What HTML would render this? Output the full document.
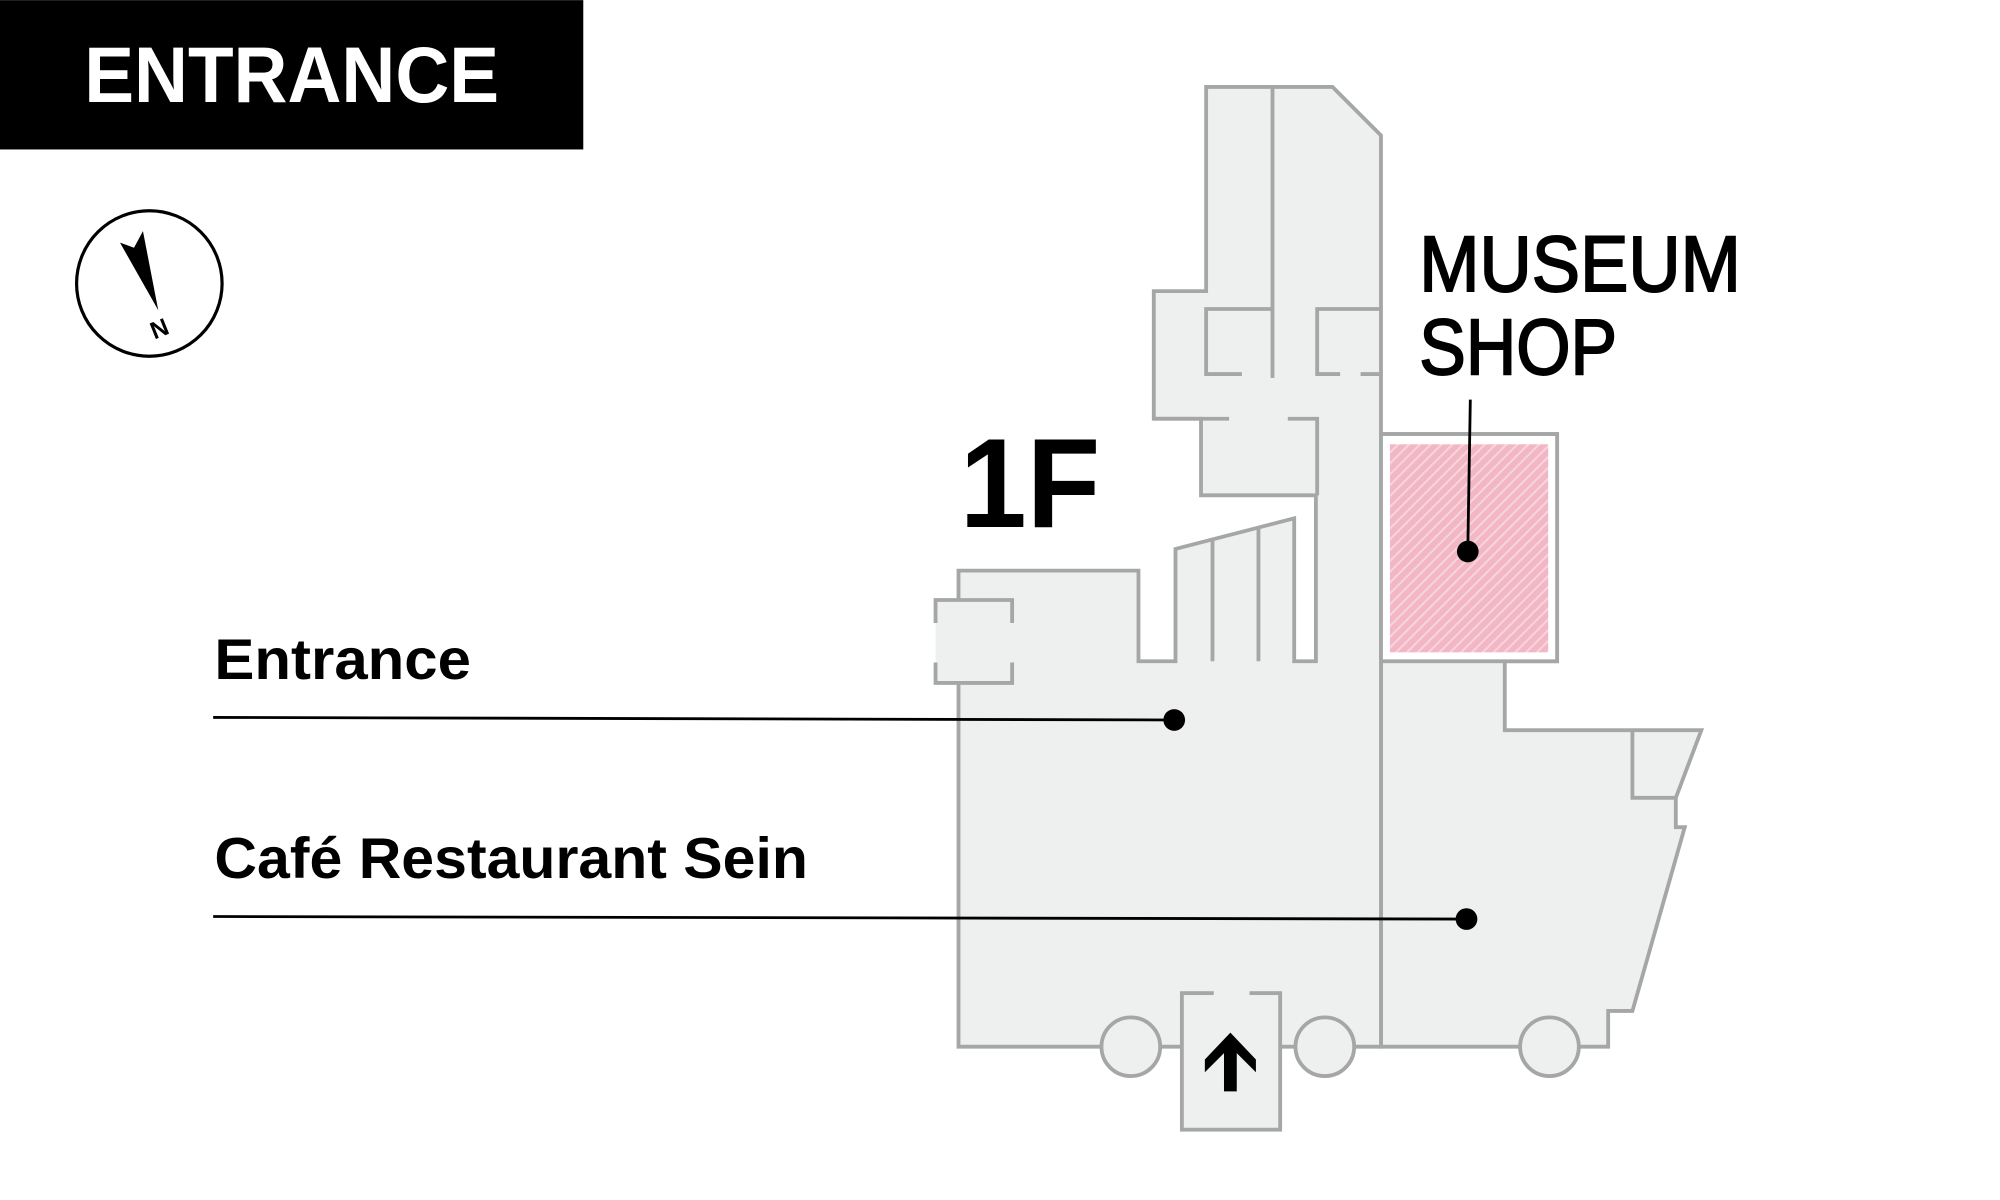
<!DOCTYPE html>
<html><head><meta charset="utf-8"><style>
html,body{margin:0;padding:0;background:#fff;}
svg{display:block;}
</style></head><body>
<svg width="2000" height="1200" viewBox="0 0 1567 940" xmlns="http://www.w3.org/2000/svg">
<defs>
<pattern id="h" width="6" height="6" patternUnits="userSpaceOnUse" patternTransform="rotate(45)">
<rect width="6" height="6" fill="#f2b6c4"/>
<rect width="1.6" height="6" fill="#f8d4dd"/>
</pattern>
</defs>
<rect x="0" y="0" width="457" height="117" fill="#000"/>
<text x="66" y="80" font-family="Liberation Sans, sans-serif" font-weight="bold" font-size="62" fill="#fff" textLength="325" lengthAdjust="spacingAndGlyphs">ENTRANCE</text>

<circle cx="117" cy="222" r="57" fill="#fff" stroke="#000" stroke-width="2.5"/>
<polygon points="94,190 105,194 112,181 124,243" fill="#000"/>
<text x="0" y="0" transform="translate(121,266) rotate(-22)" font-family="Liberation Sans, sans-serif" font-weight="bold" font-size="19" fill="#000">N</text>

<g fill="#eef0ef" stroke="#a5a7a6" stroke-width="3" stroke-linejoin="miter">
<polygon points="1082,340 1220,340 1220,518 1179,518 1179,572 1333,572 1313,625 1313,648 1320,648 1279,792 1260,792 1260,820 1082,820"/>
<polygon points="945,68 1044,68 1082,106 1082,820 751,820 751,535 751,447 892,447 892,518 921,518 921,430 1014,406 1014,518 1031,518 1031,388 941,388 941,328 904,328 904,228 945,228"/>
<rect x="1082" y="340" width="138" height="178" fill="#fff"/>
</g>
<rect x="1089" y="348" width="124" height="163" fill="url(#h)"/>
<g fill="none" stroke="#a5a7a6" stroke-width="3">
<polyline points="1279,572 1279,625 1313,625"/>
<line x1="997" y1="68" x2="997" y2="296"/>
<polyline points="997,242 945,242 945,293 973,293"/>
<polyline points="1082,242 1032,242 1032,293 1050,293"/>
<line x1="1066" y1="293" x2="1082" y2="293"/>
<line x1="904" y1="328" x2="963" y2="328"/>
<polyline points="1009,328 1032,328 1032,388"/>
<line x1="950" y1="423" x2="950" y2="518"/>
<line x1="986" y1="414" x2="986" y2="518"/>
</g>
<rect x="733" y="470" width="60" height="65" fill="#eef0ef"/>
<line x1="751" y1="470" x2="751" y2="535" stroke="#eef0ef" stroke-width="4"/>
<g fill="none" stroke="#a5a7a6" stroke-width="3">
<polyline points="733,488 733,470 793,470 793,488"/>
<polyline points="733,519 733,535 793,535 793,519"/>
</g>
<g fill="#eef0ef" stroke="#a5a7a6" stroke-width="3">
<circle cx="886" cy="820" r="23"/>
<circle cx="1038" cy="820" r="23"/>
<circle cx="1214" cy="820" r="23"/>
<rect x="926" y="778" width="77" height="107"/>
</g>
<line x1="951" y1="778" x2="979" y2="778" stroke="#eef0ef" stroke-width="5"/>
<polygon points="964,809 984,830 984,840 969,825 969,855 959,855 959,825 944,840 944,830" fill="#000"/>

<g stroke="#000" stroke-width="2.2" fill="none">
<line x1="167" y1="562" x2="920" y2="564"/>
<line x1="167" y1="718" x2="1149" y2="720"/>
<line x1="1152" y1="313" x2="1150" y2="432"/>
</g>
<g fill="#000">
<circle cx="920" cy="564" r="8.5"/>
<circle cx="1149" cy="720" r="8.5"/>
<circle cx="1150" cy="432" r="8.5"/>
</g>

<g font-family="Liberation Sans, sans-serif" fill="#000">
<text x="752" y="413" font-weight="bold" font-size="100" textLength="110" lengthAdjust="spacingAndGlyphs">1F</text>
<text x="168" y="532" font-weight="bold" font-size="45" textLength="201" lengthAdjust="spacingAndGlyphs">Entrance</text>
<text x="168" y="688" font-weight="bold" font-size="45" textLength="465" lengthAdjust="spacingAndGlyphs">Café Restaurant Sein</text>
<text x="1112" y="228" font-size="62" textLength="252" lengthAdjust="spacingAndGlyphs" stroke="#000" stroke-width="1.5">MUSEUM</text>
<text x="1112" y="293" font-size="62" textLength="155" lengthAdjust="spacingAndGlyphs" stroke="#000" stroke-width="1.5">SHOP</text>
</g>
</svg>
</body></html>
